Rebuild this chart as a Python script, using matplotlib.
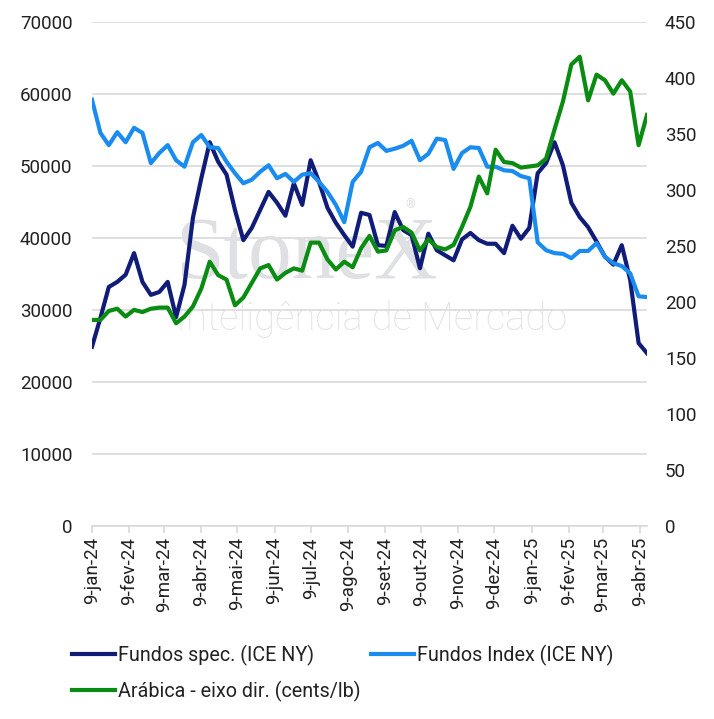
import numpy as np
import pandas as pd
import matplotlib
matplotlib.use("Agg")
import matplotlib.pyplot as plt

plt.rcParams['font.family'] = ['Roboto', 'DejaVu Sans']

# weekly data (tuesdays), 9-jan-24 .. 15-apr-25
datas = pd.date_range('2024-01-09', '2025-04-15', freq='7D')

fundos_spec = [24900, 28900, 33200, 33900, 34900, 37900, 33900, 32100, 32500, 33900,
               29000, 33500, 42800, 48300, 53300, 50600, 48800, 43900, 39700, 41400,
               43900, 46400, 44900, 43100, 47600, 44600, 50800, 47800, 44200, 42100,
               40400, 38800, 43500, 43200, 39000, 38900, 43600, 41100, 40400, 35800,
               40600, 38300, 37600, 36900, 39800, 40700, 39700, 39200, 39200, 37900,
               41700, 39900, 41400, 49000, 50400, 53300, 50100, 44900, 42900, 41500,
               39500, 37400, 36300, 39000, 34200, 25400, 24000]

fundos_index = [59200, 54600, 52900, 54700, 53300, 55300, 54600, 50400, 51800, 52900,
                50800, 49900, 53300, 54300, 52600, 52500, 50600, 49000, 47600, 48100,
                49200, 50100, 48300, 48900, 47800, 48800, 49000, 47800, 46400, 44600,
                42200, 47800, 49200, 52600, 53200, 52100, 52400, 52800, 53500, 50800,
                51700, 53800, 53600, 49600, 51800, 52600, 52500, 49900, 49900, 49400,
                49300, 48600, 48300, 39400, 38300, 37900, 37800, 37200, 38200, 38200,
                39300, 37400, 36500, 36100, 35100, 31900, 31800]

arabica = [184, 184, 192, 194, 187, 193, 191, 194, 195, 195,
           181, 187, 196, 212, 236, 224, 220, 197, 204, 217,
           230, 233, 220, 226, 230, 228, 253, 253, 238, 229,
           236, 231, 248, 259, 245, 246, 264, 267, 262, 246,
           256, 249, 247, 251, 267, 285, 312, 297, 336, 325,
           324, 320, 321, 322, 328, 354, 379, 412, 419, 380,
           403, 398, 386, 398, 388, 340, 367]

meses = ['jan', 'fev', 'mar', 'abr', 'mai', 'jun', 'jul', 'ago', 'set', 'out', 'nov', 'dez']

c_spec = '#101c78'
c_index = '#1a8cf0'
c_arab = '#0a8c12'
grid_c = '#d9d9d9'
txt_c = '#222222'

fig = plt.figure(figsize=(7.14, 7.19), dpi=100)
ax = fig.add_axes([92/714, 1-526/719, (647-92)/714, (526-22)/719])
ax2 = ax.twinx()

l1, = ax.plot(datas, fundos_spec, color=c_spec, lw=3.0, zorder=3, label='Fundos spec. (ICE NY)')
l2, = ax.plot(datas, fundos_index, color=c_index, lw=3.0, zorder=3, label='Fundos Index (ICE NY)')
l3, = ax2.plot(datas, arabica, color=c_arab, lw=3.0, zorder=3, label='Arábica - eixo dir. (cents/lb)')

# watermark
ax.text(0.15, 0.535, 'StoneX', transform=ax.transAxes, fontsize=63, family='Liberation Serif',
        color='#dfe0e3', zorder=1, va='center', ha='left')
ax.text(0.565, 0.63, '®', transform=ax.transAxes, fontsize=9, color='#dfe0e3', zorder=1)
ax.text(0.152, 0.41, 'Inteligência de Mercado', transform=ax.transAxes, fontsize=27.5,
        family='Roboto', fontweight='light', color='#e2e2e2', zorder=1, va='center', ha='left')

ax.set_xlim(datas[0], datas[-1])
ax.set_ylim(0, 70000)
ax2.set_ylim(0, 450)
ax.set_yticks(np.arange(0, 70001, 10000))
ax2.set_yticks(np.arange(0, 451, 50))

ticks = pd.date_range('2024-01-01', '2025-04-01', freq='MS') + pd.Timedelta(days=8)
ax.set_xticks(ticks)
ax.set_xticklabels(['9-%s-%s' % (meses[d.month-1], str(d.year)[2:]) for d in ticks],
                   rotation=90, fontsize=13.5, color=txt_c)

ax.grid(axis='y', color=grid_c, lw=1.2, zorder=0)
ax.set_axisbelow(True)
for a in (ax, ax2):
    for s in a.spines.values():
        s.set_visible(False)
ax.spines['bottom'].set_visible(True)
ax.spines['bottom'].set_color(grid_c)
ax.spines['bottom'].set_linewidth(1.2)

ax.tick_params(axis='y', length=0, pad=14, labelsize=13.5, labelcolor=txt_c)
ax2.tick_params(axis='y', length=0, pad=13, labelsize=13.5, labelcolor=txt_c)
ax.tick_params(axis='x', length=5, color=grid_c, width=1.2, pad=3)

fig.legend(handles=[l1, l3, l2], loc='upper left', bbox_to_anchor=(72/714, 1-645/719),
           ncol=2, frameon=False, fontsize=14.2, handlelength=2.2, handletextpad=0.15,
           columnspacing=0.5, labelspacing=0.75, borderaxespad=0, borderpad=0,
           labelcolor=txt_c)

fig.savefig('out.png', dpi=100)
